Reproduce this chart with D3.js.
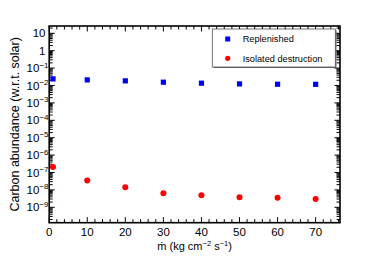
<!DOCTYPE html>
<html>
<head>
<meta charset="utf-8">
<script src="https://cdn.jsdelivr.net/npm/d3@7"></script>
<style>
  body { margin: 0; background: #fff; }
  svg { display: block; font-family: "Liberation Sans", Arial, sans-serif; }
</style>
</head>
<body>
<svg id="chart" width="378" height="258"></svg>
<script>
// data
var mdot = [1, 10, 20, 30, 40, 50, 60, 70];
var replenished = [0.024, 0.021, 0.0185, 0.0155, 0.0136, 0.0124, 0.0118, 0.0117];
var isolated = [2.1e-7, 3.5e-8, 1.4e-8, 6.5e-9, 5.0e-9, 3.8e-9, 3.5e-9, 3.0e-9];
var xTicks = [0, 10, 20, 30, 40, 50, 60, 70];
var yExps = [1, 0, -1, -2, -3, -4, -5, -6, -7, -8, -9];
var seriesNames = ['Replenished', 'Isolated destruction'];

var svg = d3.select('#chart');
var pLeft = 49.2, pRight = 340, pTop = 26, pBottom = 222.7;

var x = d3.scaleLinear().domain([0, 76.4]).range([pLeft, pRight]);
var y = d3.scaleLog().domain([Math.pow(10, -9.885), Math.pow(10, 1.42)]).range([pBottom, pTop]);

// ticks (inside, all four sides)
var ticks = svg.append('g').attr('stroke', '#000').attr('stroke-width', 1);
d3.range(0, 77, 2).forEach(function (v) {
  var len = v % 10 === 0 ? 5.5 : 3.5;
  ticks.append('line').attr('x1', x(v)).attr('x2', x(v)).attr('y1', pBottom).attr('y2', pBottom - len);
  ticks.append('line').attr('x1', x(v)).attr('x2', x(v)).attr('y1', pTop).attr('y2', pTop + len);
});
for (var e = -10; e <= 1; e++) {
  for (var m = 1; m <= 9; m++) {
    var v = m * Math.pow(10, e);
    if (v < y.domain()[0] || v > y.domain()[1]) continue;
    var len = m === 1 ? 5.5 : 3.5;
    ticks.append('line').attr('x1', pLeft).attr('x2', pLeft + len).attr('y1', y(v)).attr('y2', y(v));
    ticks.append('line').attr('x1', pRight).attr('x2', pRight - len).attr('y1', y(v)).attr('y2', y(v));
  }
}

// frame
svg.append('rect')
  .attr('x', pLeft).attr('y', pTop)
  .attr('width', pRight - pLeft).attr('height', pBottom - pTop)
  .attr('fill', 'none').attr('stroke', '#000').attr('stroke-width', 1.6);

// x tick labels
svg.append('g').selectAll('text')
  .data(xTicks).enter().append('text')
  .attr('x', function (d) { return x(d); })
  .attr('y', 235.5)
  .attr('text-anchor', 'middle')
  .attr('font-size', 11.5)
  .text(function (d) { return d; });

// y tick labels
var yl = svg.append('g').selectAll('text')
  .data(yExps).enter().append('text')
  .attr('y', function (d) { return y(Math.pow(10, d)) + 4; })
  .attr('font-size', 11.5)
  .attr('text-anchor', 'end');
yl.each(function (d) {
  var t = d3.select(this);
  if (d === 1) { t.attr('x', 45.5).text('10'); }
  else if (d === 0) { t.attr('x', 45.5).text('1'); }
  else {
    t.attr('x', 48.5);
    t.append('tspan').text('10');
    t.append('tspan').attr('dy', -4.5).attr('font-size', 8).text('\u2212' + (-d));
  }
});

// axis titles
svg.append('text')
  .attr('transform', 'translate(19,' + ((pTop + pBottom) / 2) + ') rotate(-90)')
  .attr('text-anchor', 'middle')
  .attr('font-size', 12.5)
  .text('Carbon abundance (w.r.t. solar)');

var xt = svg.append('text')
  .attr('x', (pLeft + pRight) / 2).attr('y', 250)
  .attr('text-anchor', 'middle')
  .attr('font-size', 11);
xt.append('tspan').text('m\u0307 (kg cm');
xt.append('tspan').attr('dy', -4.5).attr('font-size', 7.5).text('\u22122');
xt.append('tspan').attr('dy', 4.5).text(' s');
xt.append('tspan').attr('dy', -4.5).attr('font-size', 7.5).text('\u22121');
xt.append('tspan').attr('dy', 4.5).text(')');

// series
var sq = 5.2;
svg.append('g').selectAll('rect')
  .data(mdot).enter().append('rect')
  .attr('x', function (d) { return x(d) - sq / 2; })
  .attr('y', function (d, i) { return y(replenished[i]) - sq / 2; })
  .attr('width', sq).attr('height', sq)
  .attr('fill', '#0000ff');

svg.append('g').selectAll('circle')
  .data(mdot).enter().append('circle')
  .attr('cx', function (d) { return x(d); })
  .attr('cy', function (d, i) { return y(isolated[i]); })
  .attr('r', 3)
  .attr('fill', '#ff0000');

// legend
var lg = svg.append('g');
lg.append('rect').attr('x', 213.5).attr('y', 30).attr('width', 123).attr('height', 38).attr('fill', '#666');
lg.append('rect').attr('x', 212.3).attr('y', 29).attr('width', 123).attr('height', 38)
  .attr('fill', '#fff').attr('stroke', '#555').attr('stroke-width', 0.8);
lg.append('rect').attr('x', 227.7 - 2.5).attr('y', 39 - 2.5).attr('width', 5).attr('height', 5).attr('fill', '#0000ff');
lg.append('circle').attr('cx', 227.7).attr('cy', 58.3).attr('r', 2.6).attr('fill', '#ff0000');
lg.selectAll('text.lab').data(seriesNames).enter().append('text')
  .attr('class', 'lab')
  .attr('x', 242.7)
  .attr('y', function (d, i) { return i === 0 ? 42.2 : 61.5; })
  .attr('font-size', 9.2)
  .text(function (d) { return d; });
</script>
</body>
</html>
